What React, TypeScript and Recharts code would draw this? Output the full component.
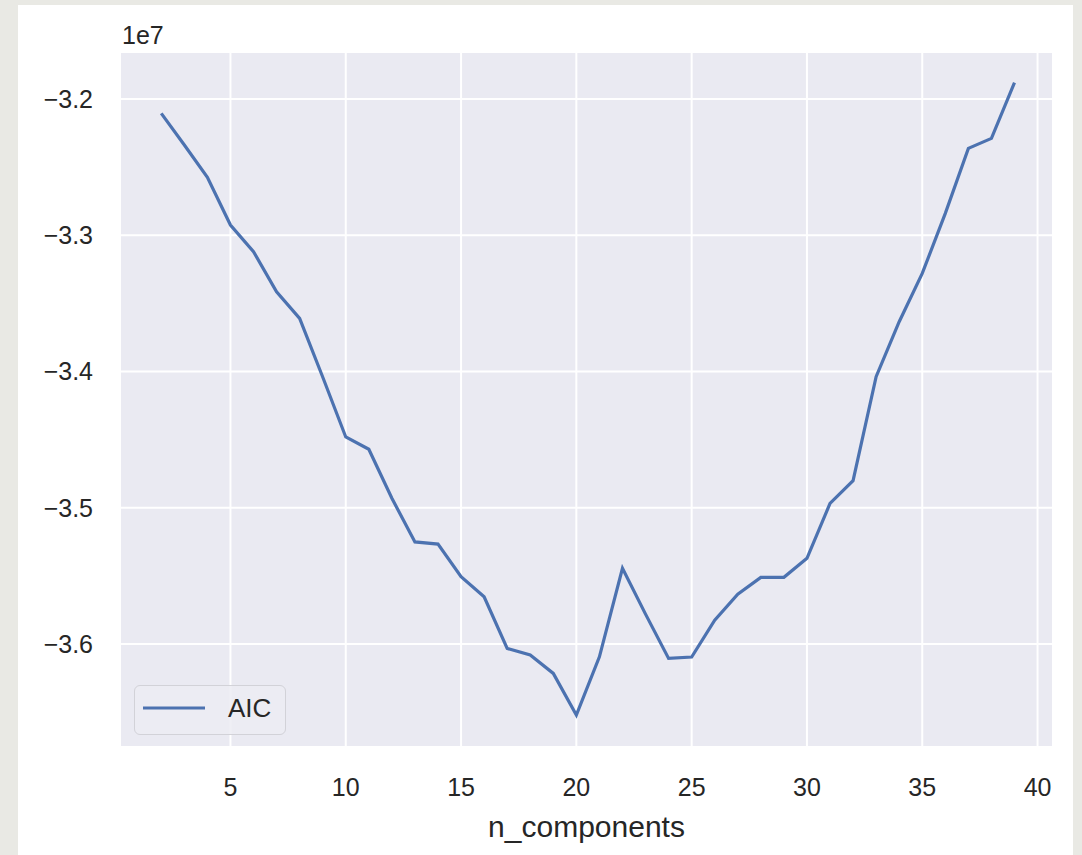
import React from 'react'
import {
  LineChart,
  Line,
  XAxis,
  YAxis,
  CartesianGrid,
  Legend,
} from 'recharts'

// n_components evaluated
const components = [
  2, 3, 4, 5, 6, 7, 8, 9, 10, 11, 12, 13, 14, 15, 16, 17, 18, 19, 20, 21,
  22, 23, 24, 25, 26, 27, 28, 29, 30, 31, 32, 33, 34, 35, 36, 37, 38, 39,
]

// AIC per model
const aic = [
  -32105000, -32337000, -32575000, -32925000, -33120000, -33414000, -33610000,
  -34040000, -34480000, -34570000, -34930000, -35250000, -35266000, -35505000,
  -35653000, -36032000, -36080000, -36215000, -36520000, -36093000, -35444000,
  -35780000, -36105000, -36095000, -35824000, -35633000, -35510000, -35510000,
  -35370000, -34968000, -34800000, -34038000, -33634000, -33280000, -32839000,
  -32362000, -32289000, -31880000,
]

const xTicks = [5, 10, 15, 20, 25, 30, 35, 40]
const yTicks = [-36000000, -35000000, -34000000, -33000000, -32000000]

const data = components.map((n, i) => ({ n, AIC: aic[i] }))

const FONT = "'Liberation Sans', Arial, sans-serif"
const TEXT = '#262626'
const BLUE = '#4c72b0'

const fmtY = (v: number) => '\u2212' + Math.abs(v / 1e7).toFixed(1)

function LegendBox({ payload }: any) {
  const item = payload && payload[0]
  return (
    <div
      style={{
        width: 152,
        height: 50,
        boxSizing: 'border-box',
        border: '1.5px solid #d2d2d8',
        borderRadius: 6,
        background: 'rgba(236,236,243,0.85)',
        position: 'relative',
        fontFamily: FONT,
      }}
    >
      <svg width={80} height={48} style={{ position: 'absolute', left: 0, top: 0 }}>
        <line x1={8} x2={70} y1={22} y2={22} stroke={item ? item.color : BLUE} strokeWidth={3} />
      </svg>
      <span
        style={{
          position: 'absolute',
          left: 93,
          top: 8,
          fontSize: 26,
          lineHeight: '28px',
          color: TEXT,
        }}
      >
        {item ? item.value : 'AIC'}
      </span>
    </div>
  )
}

export default function App() {
  return (
    <div
      style={{
        position: 'absolute',
        left: 0,
        top: 0,
        width: 1082,
        height: 855,
        background: '#e9e9e4',
        overflow: 'hidden',
      }}
    >
      <div
        style={{
          position: 'absolute',
          left: 18,
          top: 5,
          width: 1055,
          height: 850,
          background: '#ffffff',
        }}
      />
      <div style={{ position: 'absolute', left: 0, top: 0 }}>
        <LineChart
          width={1082}
          height={855}
          data={data}
          margin={{ top: 52, right: 29, left: 40, bottom: 48 }}
        >
          <CartesianGrid fill="#eaeaf2" stroke="#ffffff" strokeWidth={2} />
          <XAxis
            dataKey="n"
            type="number"
            domain={[0.21, 40.67]}
            ticks={xTicks}
            allowDataOverflow
            height={60}
            axisLine={false}
            tickLine={false}
            tickSize={0}
            tickMargin={31}
            tick={{ fill: TEXT, fontSize: 25, fontFamily: FONT }}
            label={{
              value: 'n_components',
              position: 'bottom',
              offset: 9,
              fill: TEXT,
              fontSize: 30,
              fontFamily: FONT,
            }}
          />
          <YAxis
            type="number"
            domain={[-36755000, -31655000]}
            ticks={yTicks}
            allowDataOverflow
            width={80}
            axisLine={false}
            tickLine={false}
            tickSize={0}
            tickMargin={27}
            tickFormatter={fmtY}
            tick={{ fill: TEXT, fontSize: 25, fontFamily: FONT }}
            label={({ viewBox }: any) => (
              <text
                x={viewBox.x + viewBox.width + 2}
                y={44}
                fill={TEXT}
                fontSize={25}
                fontFamily={FONT}
              >
                1e7
              </text>
            )}
          />
          <Legend
            layout="vertical"
            align="center"
            verticalAlign="middle"
            content={<LegendBox />}
            wrapperStyle={{ left: 134, top: 685, width: 152, height: 50 }}
          />
          <Line
            type="linear"
            dataKey="AIC"
            name="AIC"
            stroke={BLUE}
            strokeWidth={3.2}
            dot={false}
            isAnimationActive={false}
          />
        </LineChart>
      </div>
    </div>
  )
}
